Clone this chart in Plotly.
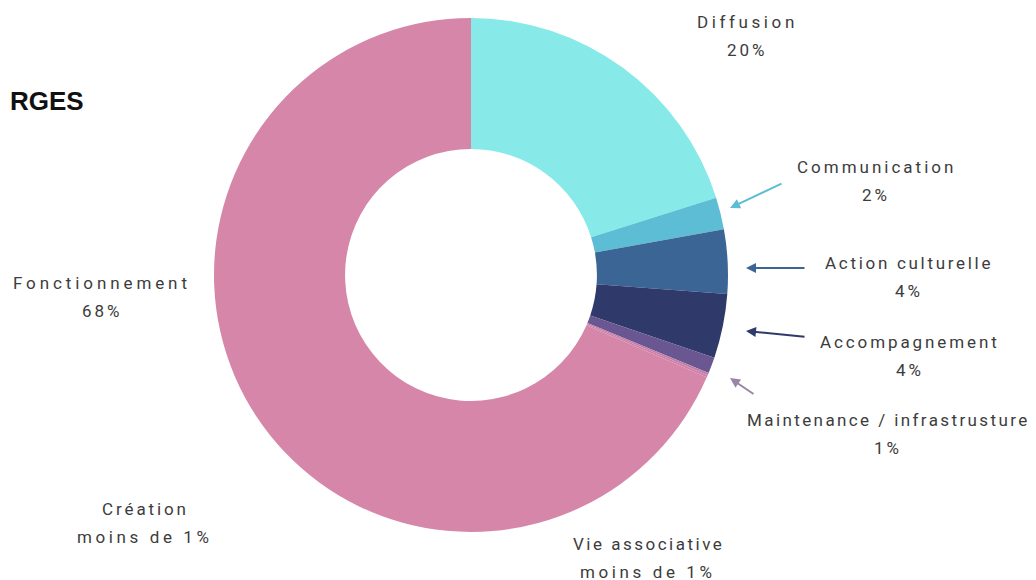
import plotly.graph_objects as go

categories = ["Diffusion", "Communication", "Action culturelle", "Accompagnement",
              "Maintenance / infrastrusture", "Vie associative", "Création", "Fonctionnement"]
values = [20, 2, 4, 4, 1, 0.15, 0.15, 68]
value_labels = ["20%", "2%", "4%", "4%", "1%", "moins de 1%", "moins de 1%", "68%"]
colors = ["#87E9E8", "#5DBDD4", "#3B6594", "#2F3A6A", "#6A5690", "#C07FA8", "#D07FA8", "#D687A9"]

# page offset of the figure inside the html body (default body margin)
OFF = 8

# label block centres (pixel positions in the page)
label_pos = {
    "Diffusion": (747, 36),
    "Communication": (876, 181),
    "Action culturelle": (909, 277),
    "Accompagnement": (910, 356),
    "Maintenance / infrastrusture": (888, 434),
    "Vie associative": (648, 558),
    "Création": (145, 523),
    "Fonctionnement": (102, 297),
}
# letter spacing (px) per label, to mimic the original wide-tracked font
spacing = {
    "Diffusion": 3.6, "Communication": 3.0, "Action culturelle": 2.7,
    "Accompagnement": 2.9, "Maintenance / infrastrusture": 2.4,
    "Vie associative": 2.5, "Création": 2.9, "Fonctionnement": 3.9,
}
# arrows: (head_x, head_y, tail_x, tail_y, color)
arrows = [
    (730, 208, 783, 183, "#5DBDD4"),
    (746, 268, 806, 268, "#3B6594"),
    (746, 331, 806, 337, "#2F3A6A"),
    (730, 378, 755, 395, "#9A85A6"),
]

W, H = 1036, 580
cx, cy, R = 471 - OFF, 275 - OFF, 257

fig = go.Figure(go.Pie(
    labels=categories, values=values, sort=False, direction="clockwise",
    hole=0.49, textinfo="none", hoverinfo="label+percent",
    marker=dict(colors=colors, line=dict(width=0)),
    domain=dict(x=[(cx - R) / W, (cx + R) / W], y=[(H - cy - R) / H, (H - cy + R) / H]),
    showlegend=False,
))

def px(x): return (x - OFF) / W
def py(y): return 1 - (y - OFF) / H

annotations = []
for name, vl in zip(categories, value_labels):
    x, y = label_pos[name]
    for i, t in enumerate([name, vl]):
        ls = spacing[name] if i == 0 else (3.6 if "moins" in vl else 3.0)
        annotations.append(dict(
            x=px(x), y=py(y - 14 + 28 * i), xref="paper", yref="paper",
            text=f"<span style='letter-spacing:{ls}px'>{t}</span>",
            showarrow=False, xanchor="center", yanchor="middle",
            font=dict(family="Roboto", size=17, color="#3C3C3C"),
        ))

for hx, hy, tx, ty, c in arrows:
    annotations.append(dict(
        x=px(hx), y=py(hy), xref="paper", yref="paper", text="",
        showarrow=True, ax=tx - hx, ay=ty - hy, axref="pixel", ayref="pixel",
        arrowhead=2, arrowsize=1, arrowwidth=2, arrowcolor=c,
    ))

annotations.append(dict(
    x=0, y=py(101), xref="paper", yref="paper", text="<b>RGES</b>",
    showarrow=False, xanchor="left", yanchor="middle",
    font=dict(family="Liberation Sans", size=26, color="#111111"),
))

fig.update_layout(
    width=W, height=H, margin=dict(l=0, r=0, t=0, b=0),
    paper_bgcolor="white", plot_bgcolor="white",
    annotations=annotations,
)
fig.write_html("out.html")
